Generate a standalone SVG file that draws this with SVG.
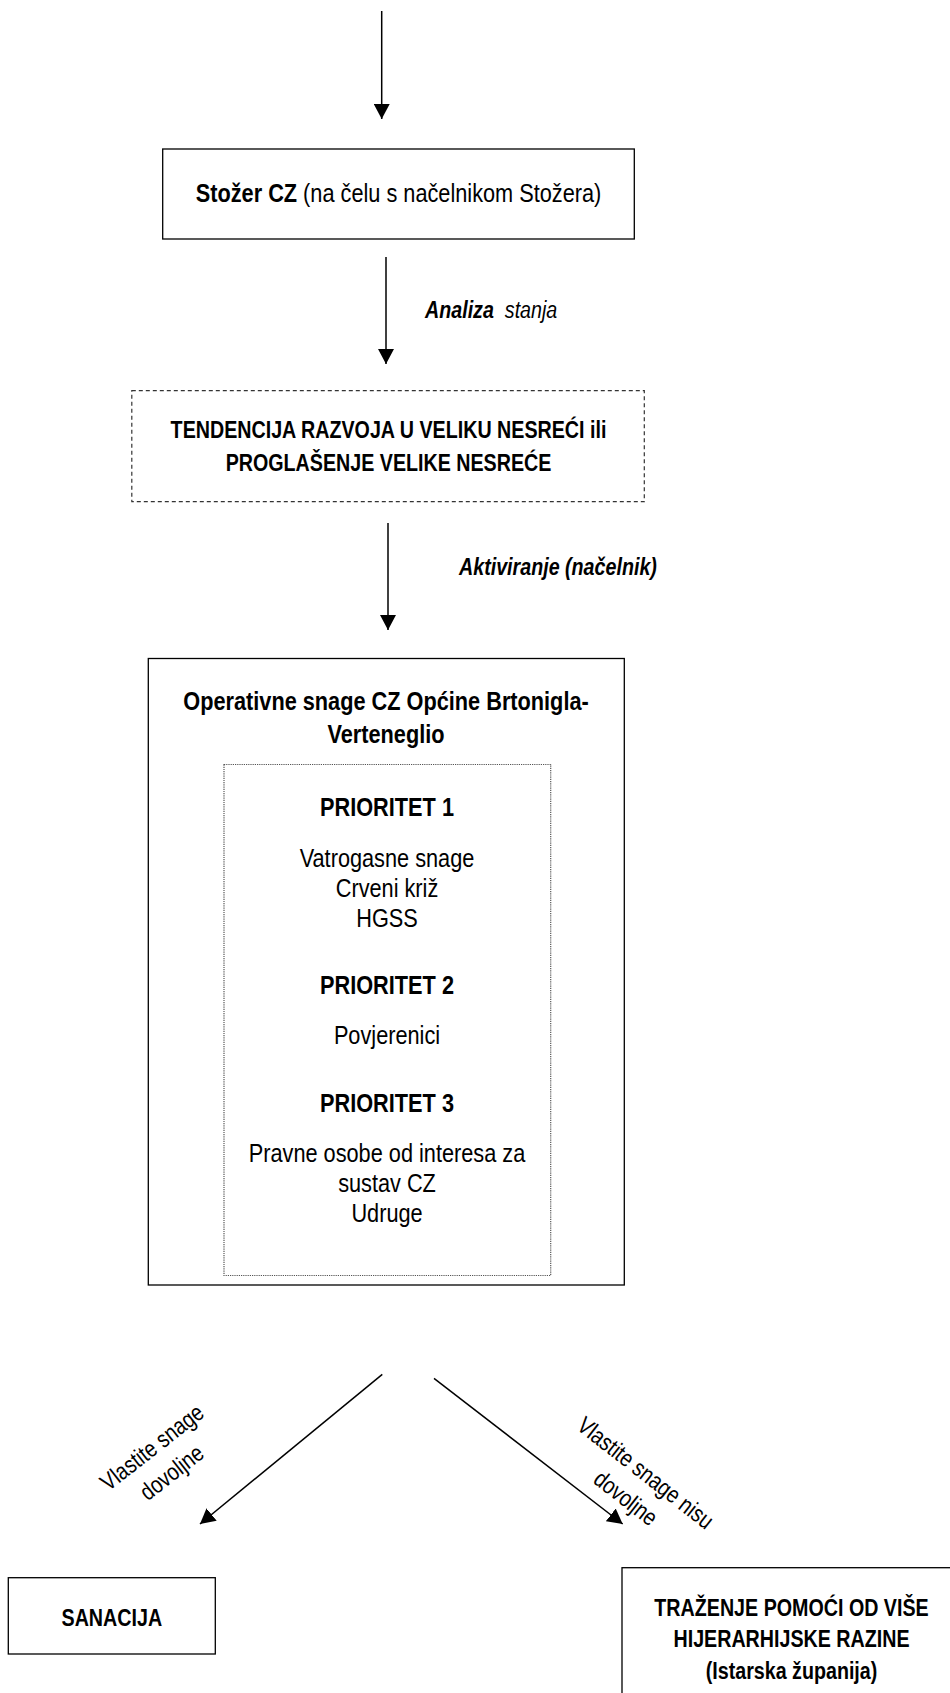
<svg xmlns="http://www.w3.org/2000/svg" width="950" height="1693" viewBox="0 0 950 1693">
<defs>
<marker id="ah" markerUnits="userSpaceOnUse" markerWidth="16" markerHeight="16" refX="15" refY="8" orient="auto"><path d="M0,0 L15,8 L0,16 Z" fill="#000"/></marker>
<style>
text{font-family:"Liberation Sans Narrow","Arial Narrow","Liberation Sans",Arial,sans-serif;fill:#000}
.b{font-weight:bold}
.i{font-style:italic}
.s12{font-size:26.5px}
.s11{font-size:24px}
.c{text-anchor:middle}
.box{fill:#fff;stroke:#000;stroke-width:1.3}
.dash{fill:none;stroke:#333;stroke-width:1.2;stroke-dasharray:4 3}
.dot{fill:none;stroke:#555;stroke-width:1.2;stroke-dasharray:1.2 1}
.conn line{stroke:#000;stroke-width:1.5;fill:none;marker-end:url(#ah)}
</style>
</defs>
<rect width="950" height="1693" fill="#fff"/>
<g id="connectors" class="conn">
<line x1="381.7" y1="11" x2="381.7" y2="119"/>
<line x1="386" y1="257" x2="386" y2="364"/>
<line x1="388" y1="523" x2="388" y2="630"/>
<line x1="382.3" y1="1374.3" x2="200" y2="1524"/>
<line x1="434" y1="1378.3" x2="622.7" y2="1524"/>
</g>
<g id="connector-labels">
<text transform="matrix(0.82 0 0 1 425 318)" class="s11 i"><tspan class="b">Analiza</tspan>&#160; stanja</text>
<text transform="matrix(0.82 0 0 1 459 575)" class="s11 i b">Aktiviranje (načelnik)</text>
<text transform="translate(157,1453.7) rotate(-38) scale(0.82,1)" class="s11 c"><tspan x="0" y="0">Vlastite snage</tspan><tspan x="0" y="32">dovoljne</tspan></text>
<text transform="translate(640.5,1479.3) rotate(38) scale(0.82,1)" class="s11 c"><tspan x="0" y="0">Vlastite snage nisu</tspan><tspan x="0" y="32">dovoljne</tspan></text>
</g>
<g id="stozer">
<rect class="box" x="162.7" y="149" width="471.6" height="90"/>
<text transform="matrix(0.82 0 0 1 398.5 202)" class="s12 c"><tspan class="b">Stožer CZ</tspan> (na čelu s načelnikom Stožera)</text>
</g>
<g id="tendencija">
<rect class="dash" x="131.8" y="390.7" width="512.5" height="111"/>
<text transform="matrix(0.82 0 0 1 388.5 438)" class="s11 b c">TENDENCIJA RAZVOJA U VELIKU NESREĆI ili</text>
<text transform="matrix(0.82 0 0 1 388.5 471)" class="s11 b c">PROGLAŠENJE VELIKE NESREĆE</text>
</g>
<g id="operativne-snage">
<rect class="box" x="148.3" y="658.5" width="476" height="626.5"/>
<text transform="matrix(0.82 0 0 1 386 710)" class="s12 b c">Operativne snage CZ Općine Brtonigla-</text>
<text transform="matrix(0.82 0 0 1 386 743)" class="s12 b c">Verteneglio</text>
<g id="prioriteti">
<rect class="dot" x="224" y="764.5" width="326.7" height="511"/>
<text transform="matrix(0.82 0 0 1 387 816)" class="s12 b c">PRIORITET 1</text>
<text transform="matrix(0.82 0 0 1 387 867)" class="s12 c">Vatrogasne snage</text>
<text transform="matrix(0.82 0 0 1 387 897)" class="s12 c">Crveni križ</text>
<text transform="matrix(0.82 0 0 1 387 927)" class="s12 c">HGSS</text>
<text transform="matrix(0.82 0 0 1 387 994)" class="s12 b c">PRIORITET 2</text>
<text transform="matrix(0.82 0 0 1 387 1044)" class="s12 c">Povjerenici</text>
<text transform="matrix(0.82 0 0 1 387 1112)" class="s12 b c">PRIORITET 3</text>
<text transform="matrix(0.82 0 0 1 387 1162)" class="s12 c">Pravne osobe od interesa za</text>
<text transform="matrix(0.82 0 0 1 387 1192)" class="s12 c">sustav CZ</text>
<text transform="matrix(0.82 0 0 1 387 1222)" class="s12 c">Udruge</text>
</g>
</g>
<g id="sanacija">
<rect class="box" x="8.3" y="1577.7" width="207" height="76.3"/>
<text transform="matrix(0.82 0 0 1 111.8 1626)" class="s11 b c">SANACIJA</text>
</g>
<g id="trazenje-pomoci">
<rect class="box" x="622" y="1567.7" width="340" height="150"/>
<text transform="matrix(0.82 0 0 1 791.5 1616)" class="s11 b c">TRAŽENJE POMOĆI OD VIŠE</text>
<text transform="matrix(0.82 0 0 1 791.5 1647)" class="s11 b c">HIJERARHIJSKE RAZINE</text>
<text transform="matrix(0.82 0 0 1 791.5 1679)" class="s11 b c">(Istarska županija)</text>
</g>
</svg>
